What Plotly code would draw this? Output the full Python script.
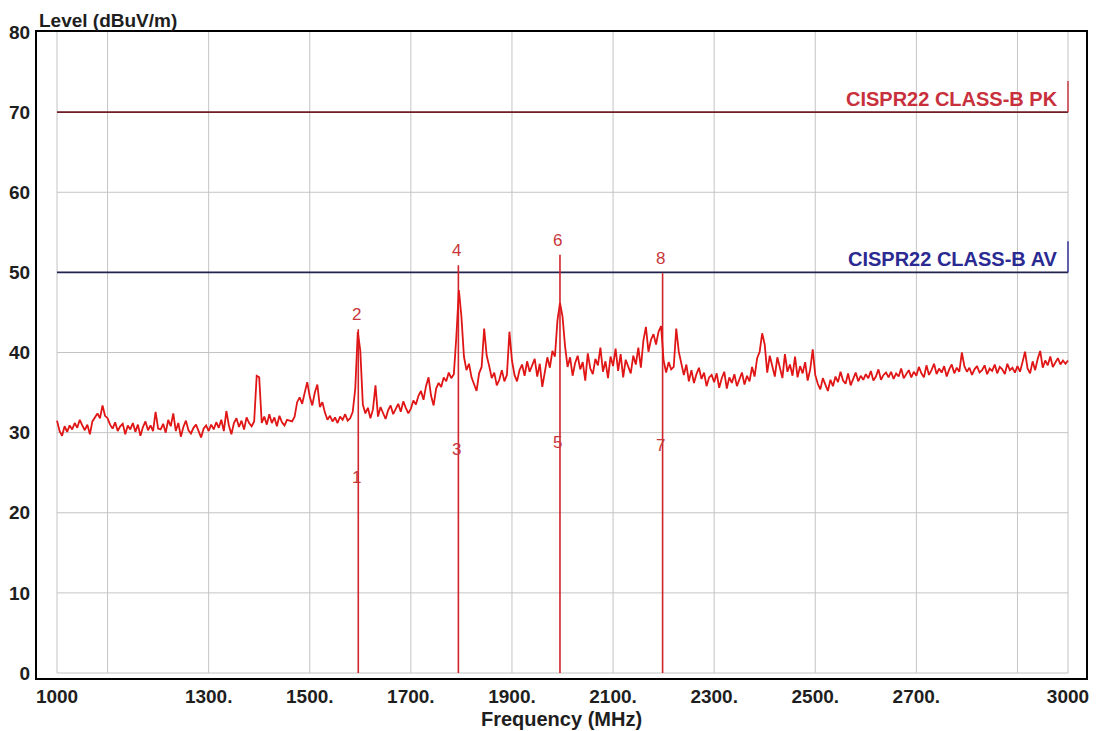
import plotly.graph_objects as go

# ---------------- data ----------------
freq_start, freq_step = 1000, 5  # MHz
level_rows = [
    [31.5, 30.2, 29.6, 30.8, 30.1, 30.9, 30.4, 31.2, 30.6, 31.6, 30.9, 30.3, 31.0, 29.8, 31.4, 31.9, 32.4, 31.8, 33.4, 32.1],  # 1000
    [31.8, 31.0, 30.5, 31.3, 30.2, 30.8, 31.1, 29.8, 30.9, 30.4, 31.2, 30.1, 31.0, 29.6, 30.7, 31.4, 30.3, 30.9, 30.2, 32.6],  # 1100
    [30.5, 30.4, 31.1, 30.0, 31.6, 30.8, 32.4, 30.2, 31.2, 29.5, 30.7, 31.5, 30.3, 29.9, 30.6, 31.0, 30.1, 29.4, 30.5, 30.9],  # 1200
    [30.2, 31.0, 30.4, 31.3, 30.6, 31.6, 30.2, 32.7, 30.9, 29.8, 31.2, 31.8, 30.7, 31.5, 30.4, 31.9, 31.2, 30.8, 31.4, 37.1],  # 1300
    [36.9, 31.2, 32.0, 31.0, 32.3, 31.2, 31.9, 30.8, 32.1, 31.3, 30.9, 31.6, 31.5, 31.4, 32.0, 33.8, 34.4, 33.6, 35.0, 36.3],  # 1400
    [34.5, 33.4, 35.0, 36.0, 33.2, 33.8, 32.5, 31.6, 32.1, 31.4, 31.9, 31.2, 32.0, 31.6, 32.3, 31.5, 31.8, 32.6, 35.5, 42.6],  # 1500
    [40.2, 33.5, 32.4, 33.1, 31.8, 32.9, 35.9, 32.0, 33.2, 32.5, 31.7, 32.8, 33.4, 32.3, 32.9, 33.6, 32.6, 33.9, 33.1, 32.4],  # 1600
    [33.0, 34.0, 33.5, 34.6, 35.2, 34.1, 35.8, 36.9, 34.6, 33.4, 35.5, 36.2, 35.7, 36.9, 36.4, 37.5, 36.8, 37.3, 42.0, 47.8],  # 1700
    [44.5, 39.5, 37.8, 38.6, 36.9, 36.0, 35.2, 37.4, 38.2, 43.0, 39.6, 38.3, 36.8, 37.5, 35.9, 36.6, 37.8, 36.4, 37.2, 42.6],  # 1800
    [39.0, 37.2, 36.4, 37.8, 38.5, 37.1, 38.9, 37.6, 38.3, 39.2, 37.0, 38.6, 35.7, 37.4, 39.4, 38.1, 40.2, 39.5, 44.0, 46.2],  # 1900
    [44.5, 40.8, 38.2, 39.4, 37.1, 38.7, 39.6, 37.9, 38.8, 36.5, 39.9, 38.0, 37.3, 39.2, 38.4, 40.6, 37.6, 38.9, 36.8, 39.5],  # 2000
    [38.3, 40.5, 37.7, 39.8, 36.9, 39.1, 38.2, 37.4, 39.6, 38.5, 40.6, 38.1, 41.5, 43.2, 40.1, 41.6, 42.3, 41.0, 42.6, 43.3],  # 2100
    [39.0, 37.5, 38.8, 37.9, 38.2, 43.0, 40.1, 38.4, 37.2, 38.5, 36.4, 37.8, 36.2, 37.3, 38.1, 36.7, 37.5, 35.8, 36.9, 37.2],  # 2200
    [36.3, 37.4, 35.6, 36.8, 37.6, 35.5, 36.9, 36.2, 37.3, 35.8, 36.6, 37.5, 36.0, 37.1, 36.4, 38.2, 37.0, 39.3, 40.1, 42.4],  # 2300
    [41.0, 37.5, 39.6, 38.2, 37.0, 39.4, 38.1, 36.8, 39.8, 37.6, 38.5, 37.1, 39.5, 36.9, 38.3, 37.4, 38.8, 36.5, 37.9, 40.4],  # 2400
    [37.2, 36.1, 35.4, 36.8, 36.0, 35.2, 36.6, 35.8, 37.0, 36.3, 37.6, 36.5, 36.1, 37.4, 35.9, 36.8, 37.5, 36.4, 37.1, 36.6],  # 2500
    [37.3, 36.8, 37.7, 36.5, 37.0, 37.9, 36.6, 37.2, 37.5, 36.9, 37.6, 36.7, 37.4, 37.0, 38.0, 36.8, 37.3, 37.8, 36.9, 37.6],  # 2600
    [37.1, 38.2, 37.4, 36.9, 38.4, 37.2, 37.8, 38.6, 37.3, 38.0, 37.5, 38.3, 37.0, 37.9, 38.5, 37.4, 38.1, 37.6, 40.0, 38.3],  # 2700
    [37.6, 38.1, 37.2, 37.9, 38.3, 37.5, 37.8, 38.4, 37.3, 38.0, 37.7, 38.5, 37.4, 38.2, 37.9, 37.3, 38.6, 37.8, 38.1, 37.5],  # 2800
    [38.3, 37.6, 38.8, 40.1, 38.0, 37.4, 38.9, 37.8, 39.2, 40.2, 38.1, 39.0, 38.4, 39.5, 38.2, 38.8, 39.3, 38.5, 39.0, 38.6],  # 2900
    [39.0],                                                                                                                   # 3000
]

limit_names = ["CISPR22 CLASS-B PK", "CISPR22 CLASS-B AV"]
limit_levels = [70, 50]
limit_line_colors = ["#6e1e24", "#22224e"]
limit_text_colors = ["#c8303c", "#2a2a92"]
limit_start, limit_stop = 1000, 3000

marker_ids = ["1", "2", "3", "4", "5", "6", "7", "8"]
marker_freqs = [1596, 1596, 1794, 1794, 1995, 1995, 2198, 2198]
marker_levels = [22.6, 42.9, 26.1, 50.9, 26.9, 52.2, 26.6, 49.9]

grid_x = [1000, 1100, 1300, 1500, 1700, 1900, 2100, 2300, 2500, 2700, 2900, 3000]
grid_y = [0, 10, 20, 30, 40, 50, 60, 70]
x_tickvals = [1000, 1300, 1500, 1700, 1900, 2100, 2300, 2500, 2700, 3000]
x_ticktext = ["1000", "1300.", "1500.", "1700.", "1900.", "2100.", "2300.", "2500.", "2700.", "3000"]
y_tickvals = [0, 10, 20, 30, 40, 50, 60, 70, 80]
y_ticktext = ["0", "10", "20", "30", "40", "50", "60", "70", "80"]

# ---------------- build ----------------
levels = [v for row in level_rows for v in row]
freqs = [freq_start + i * freq_step for i in range(len(levels))]

FONT = "Liberation Sans, Arial, sans-serif"
TXT = "#1e1e1e"
fig = go.Figure()

# grid (limited to the data rectangle)
gx, gy = [], []
for xv in grid_x:
    gx += [xv, xv, None]
    gy += [0, 80, None]
for yv in grid_y:
    gx += [limit_start, limit_stop, None]
    gy += [yv, yv, None]
fig.add_trace(go.Scatter(x=gx, y=gy, mode="lines", line=dict(color="#c4c4c4", width=1),
                         hoverinfo="skip", showlegend=False))

# limit lines
tick_h = 3.9
for name, lv, lc, tc in zip(limit_names, limit_levels, limit_line_colors, limit_text_colors):
    fig.add_trace(go.Scatter(x=[limit_start, limit_stop], y=[lv, lv], mode="lines",
                             line=dict(color=lc, width=1.6), showlegend=False, name=name))
    fig.add_trace(go.Scatter(x=[limit_stop, limit_stop], y=[lv, lv + tick_h], mode="lines",
                             line=dict(color=tc, width=1.4), showlegend=False, hoverinfo="skip"))
    fig.add_annotation(x=limit_stop, y=lv, xref="x", yref="y", text=name, showarrow=False,
                       xanchor="right", yanchor="bottom", xshift=-8, yshift=0,
                       font=dict(family=FONT, size=20, color=tc, weight="bold"))

# marker vertical lines
mx, my = [], []
for f in sorted(set(marker_freqs)):
    top = max(l for ff, l in zip(marker_freqs, marker_levels) if ff == f)
    mx += [f, f, None]
    my += [0, top, None]
fig.add_trace(go.Scatter(x=mx, y=my, mode="lines", line=dict(color="#d0232a", width=1.6),
                         hoverinfo="skip", showlegend=False))

# measured level trace
fig.add_trace(go.Scatter(x=freqs, y=levels, mode="lines", line=dict(color="#e01515", width=1.8),
                         showlegend=False, name="Level"))

# marker labels
for mid, f, l in zip(marker_ids, marker_freqs, marker_levels):
    fig.add_annotation(x=f, y=l, xref="x", yref="y", text=mid, showarrow=False,
                       xanchor="center", yanchor="bottom", xshift=-2, yshift=3,
                       font=dict(family=FONT, size=17, color="#c8373a"))

fig.add_annotation(x=0, y=1, xref="paper", yref="paper", text="Level (dBuV/m)",
                   showarrow=False, xanchor="left", yanchor="top", yshift=24,
                   font=dict(family=FONT, size=19, color=TXT, weight="bold"))

# the page body adds an 8px offset; size the figure so the plot box lands where the reference has it
fig.update_layout(
    width=1092, height=723,
    margin=dict(l=29, r=14, t=24, b=53, autoexpand=False),
    paper_bgcolor="white", plot_bgcolor="white",
    font=dict(family=FONT, color=TXT),
    xaxis=dict(range=[960.4, 3035.6], showgrid=False, zeroline=False, automargin=False,
               showline=True, mirror=True, linecolor="black", linewidth=2,
               tickmode="array", tickvals=x_tickvals, ticktext=x_ticktext, ticks="",
               tickfont=dict(family=FONT, size=19, color=TXT, weight="bold"),
               title=dict(text="Frequency (MHz)", standoff=6,
                          font=dict(family=FONT, size=20, color=TXT, weight="bold"))),
    yaxis=dict(range=[-0.62, 80], showgrid=False, zeroline=False, automargin=False,
               showline=True, mirror=True, linecolor="black", linewidth=2,
               tickmode="array", tickvals=y_tickvals, ticktext=y_ticktext, ticks="",
               ticklabelstandoff=1,
               tickfont=dict(family=FONT, size=19, color=TXT, weight="bold")),
)

fig.write_html("out.html")
